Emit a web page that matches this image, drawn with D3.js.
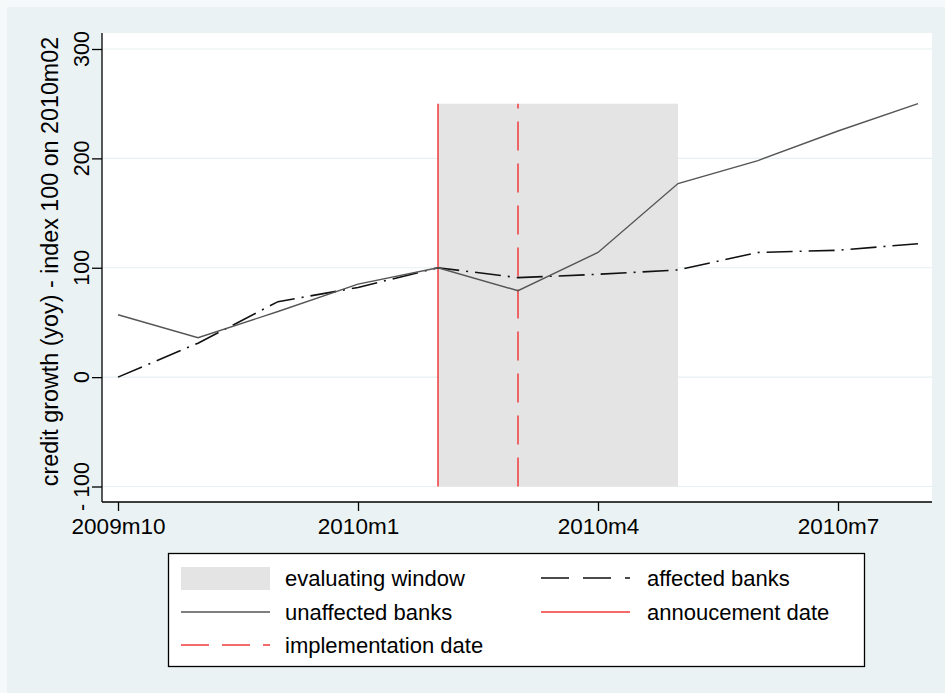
<!DOCTYPE html>
<html>
<head>
<meta charset="utf-8">
<script src="https://cdn.jsdelivr.net/npm/d3@7"></script>
<style>
  html, body { margin: 0; padding: 0; background: #eaf2f3; }
  svg { display: block; }
  text { font-family: "Liberation Sans", Arial, sans-serif; fill: #000; }
</style>
</head>
<body>
<svg id="chart" width="945" height="693"></svg>
<script>
// months on the x axis
const months = ["2009m10", "2009m11", "2009m12", "2010m1", "2010m2", "2010m3",
  "2010m4", "2010m5", "2010m6", "2010m7", "2010m8"];
const xTickLabels = ["2009m10", "2010m1", "2010m4", "2010m7"];
const yTicks = [-100, 0, 100, 200, 300];

// index 100 on 2010m02
const unaffected = [57, 36, 60, 85, 100, 79, 114, 177, 198, 225, 250];
const affected = [0, 31, 69, 82, 100, 91, 94, 98, 114, 116, 122];

// shaded window and the two dates
const windowStart = "2010m2";
const windowEnd = "2010m5";
const windowTop = 250;
const announcement = "2010m2";
const implementation = "2010m3";

function drawChart() {
  const svg = d3.select("#chart");
  const W = 945, H = 693;

  // outer background, with the lighter edge at top and left
  svg.append("rect").attr("width", W).attr("height", H).attr("fill", "#eaf2f3");
  svg.append("rect").attr("width", W).attr("height", 7).attr("fill", "#f5f9fa");
  svg.append("rect").attr("width", 7).attr("height", H).attr("fill", "#f5f9fa");

  const plot = { left: 102, right: 932, top: 33, bottom: 502 };

  const x = d3.scalePoint().domain(months).range([118, 918]);
  const y = d3.scaleLinear().domain([-100, 300]).range([486.5, 49]);

  // plot region
  svg.append("rect")
    .attr("x", plot.left).attr("y", plot.top)
    .attr("width", plot.right - plot.left).attr("height", plot.bottom - plot.top)
    .attr("fill", "#fff");

  // grid lines
  svg.append("g").selectAll("line").data(yTicks).join("line")
    .attr("x1", plot.left).attr("x2", plot.right)
    .attr("y1", d => y(d)).attr("y2", d => y(d))
    .attr("stroke", "#e6eff1").attr("stroke-width", 1.2);

  // evaluating window
  svg.append("rect")
    .attr("x", x(windowStart)).attr("y", y(windowTop))
    .attr("width", x(windowEnd) - x(windowStart))
    .attr("height", y(-100) - y(windowTop))
    .attr("fill", "#e4e4e4");

  // date lines
  svg.append("line")
    .attr("x1", x(announcement)).attr("x2", x(announcement))
    .attr("y1", y(-100)).attr("y2", y(windowTop))
    .attr("stroke", "#f23a3a").attr("stroke-width", 1.5);
  svg.append("line")
    .attr("x1", x(implementation)).attr("x2", x(implementation))
    .attr("y1", y(-100)).attr("y2", y(windowTop))
    .attr("stroke", "#f23a3a").attr("stroke-width", 1.5)
    .attr("stroke-dasharray", "29,13");

  // series lines
  const line = d3.line().x((d, i) => x(months[i])).y(d => y(d));
  svg.append("path").datum(affected)
    .attr("d", line).attr("fill", "none")
    .attr("stroke", "#111").attr("stroke-width", 1.6)
    .attr("stroke-dasharray", "26,7,2,7");
  svg.append("path").datum(unaffected)
    .attr("d", line).attr("fill", "none")
    .attr("stroke", "#555").attr("stroke-width", 1.4);

  // y axis
  const yAxis = svg.append("g")
    .attr("transform", `translate(${plot.left},0)`)
    .call(d3.axisLeft(y).tickValues(yTicks).tickSize(10).tickFormat(""));
  yAxis.select(".domain").attr("d", `M0,${plot.top}V${plot.bottom}`)
    .attr("stroke", "#000").attr("stroke-width", 1.3);
  yAxis.selectAll(".tick line").attr("stroke", "#000").attr("stroke-width", 1.3);
  svg.append("g").selectAll("text").data(yTicks).join("text")
    .attr("transform", d => `translate(89,${y(d)}) rotate(-90)`)
    .attr("text-anchor", "middle")
    .style("font-size", "21.5px")
    .text(d => d < 0 ? "- " + Math.abs(d) : d);

  // x axis
  const xAxis = svg.append("g")
    .attr("transform", `translate(0,${plot.bottom})`)
    .call(d3.axisBottom(x).tickValues(xTickLabels).tickSize(9).tickPadding(7));
  xAxis.select(".domain").attr("d", `M${plot.left},0H${plot.right}`)
    .attr("stroke", "#000").attr("stroke-width", 1.3);
  xAxis.selectAll(".tick line").attr("stroke", "#000").attr("stroke-width", 1.3);
  xAxis.selectAll(".tick text")
    .style("font-size", "22.5px")
    .style("font-family", "'Liberation Sans', Arial, sans-serif")
    .attr("fill", "#000");

  // y axis title
  svg.append("text")
    .attr("transform", `translate(58,${(plot.top + plot.bottom) / 2 - 6}) rotate(-90)`)
    .attr("text-anchor", "middle")
    .style("font-size", "23.3px")
    .text("credit growth (yoy) - index 100 on 2010m02");

  // legend
  const lg = svg.append("g");
  lg.append("rect")
    .attr("x", 168.5).attr("y", 553.5).attr("width", 696).attr("height", 113)
    .attr("fill", "#fff").attr("stroke", "#000").attr("stroke-width", 1.3);

  const rows = [578, 612, 645];
  const col1 = 181, col2 = 541, symW = 89;

  lg.append("rect").attr("x", col1).attr("y", rows[0] - 11)
    .attr("width", symW).attr("height", 23).attr("fill", "#e4e4e4");
  lg.append("line").attr("x1", col1).attr("x2", col1 + symW)
    .attr("y1", rows[1]).attr("y2", rows[1])
    .attr("stroke", "#555").attr("stroke-width", 1.4);
  lg.append("line").attr("x1", col1).attr("x2", col1 + symW)
    .attr("y1", rows[2]).attr("y2", rows[2])
    .attr("stroke", "#f23a3a").attr("stroke-width", 1.5)
    .attr("stroke-dasharray", "28,13");
  lg.append("line").attr("x1", col2).attr("x2", col2 + symW)
    .attr("y1", rows[0]).attr("y2", rows[0])
    .attr("stroke", "#111").attr("stroke-width", 1.6)
    .attr("stroke-dasharray", "28,14");
  lg.append("line").attr("x1", col2).attr("x2", col2 + symW)
    .attr("y1", rows[1]).attr("y2", rows[1])
    .attr("stroke", "#f23a3a").attr("stroke-width", 1.5);

  const labels = [
    { t: "evaluating window", x: 285, y: rows[0] },
    { t: "unaffected banks", x: 285, y: rows[1] },
    { t: "implementation date", x: 285, y: rows[2] },
    { t: "affected banks", x: 647, y: rows[0] },
    { t: "annoucement date", x: 647, y: rows[1] }
  ];
  lg.selectAll("text.lab").data(labels).join("text")
    .attr("class", "lab")
    .attr("x", d => d.x).attr("y", d => d.y + 8)
    .style("font-size", "22px")
    .text(d => d.t);
}

drawChart();
</script>
</body>
</html>
